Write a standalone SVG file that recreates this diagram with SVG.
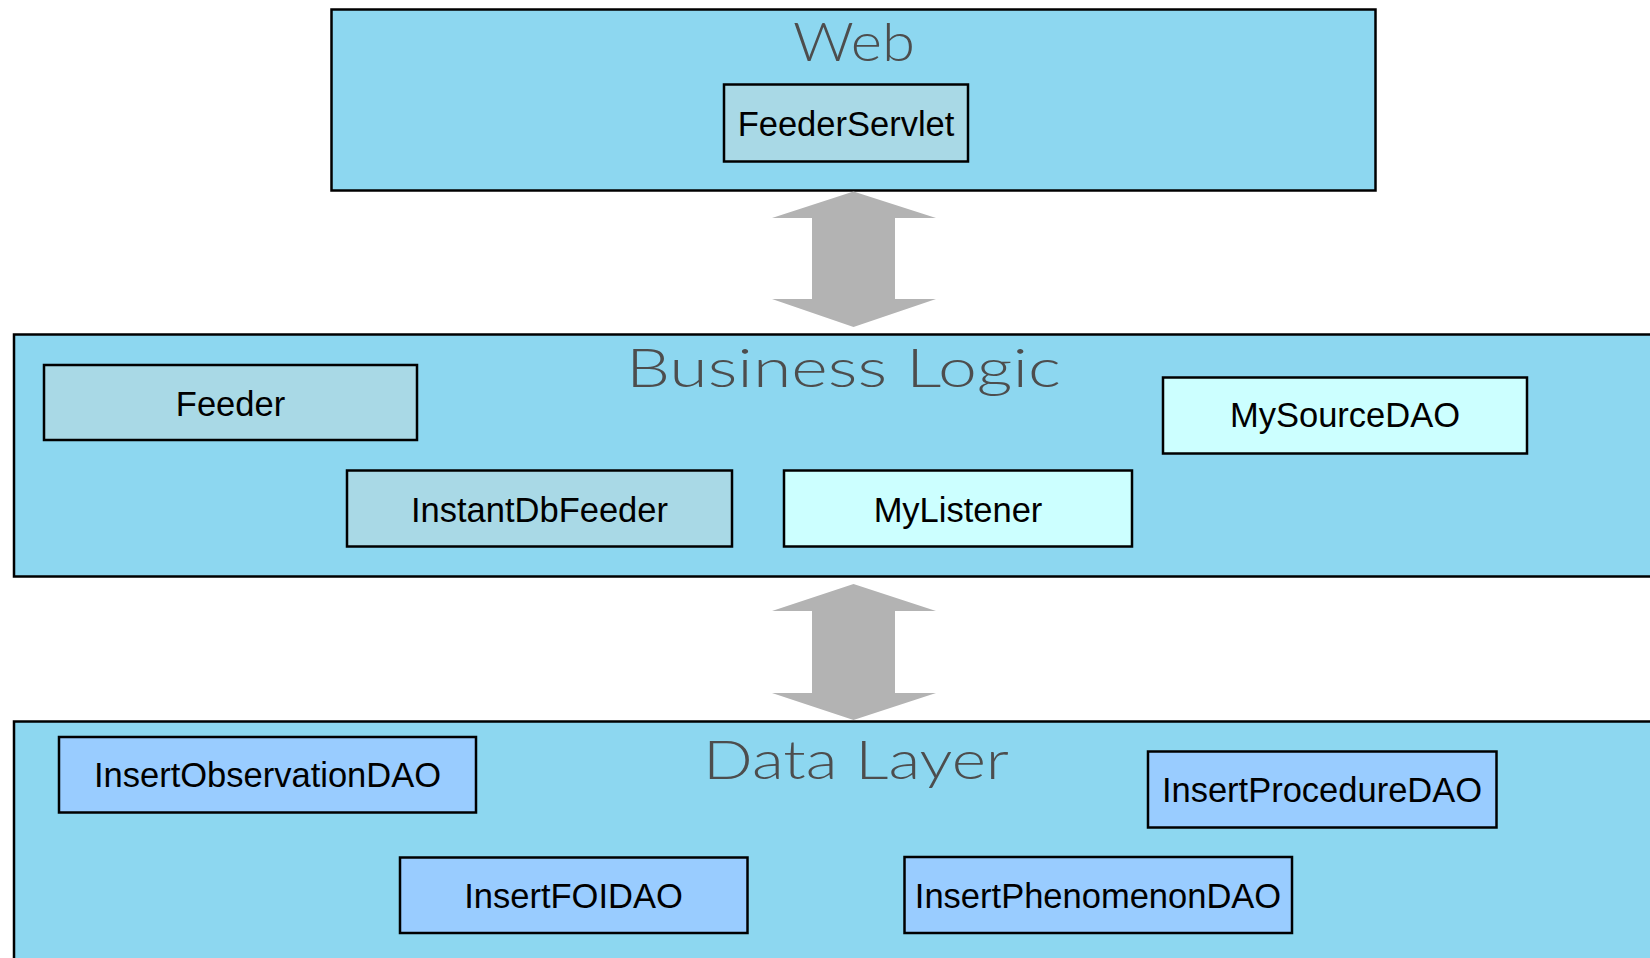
<svg xmlns="http://www.w3.org/2000/svg" width="1650" height="958" viewBox="0 0 1650 958">
<style>
.layer{fill:#8dd7f0;stroke:#000;stroke-width:2.5}
.title{font-family:Lato,"DejaVu Sans","Liberation Sans",sans-serif;font-weight:300;font-size:53px;fill:#4d4d4d;text-anchor:middle}
.box{stroke:#000;stroke-width:2.5}
.cls{fill:#a9d9e6}
.lis{fill:#ccffff}
.dao{fill:#99ccff}
.lbl{font-family:"Liberation Sans",Arial,sans-serif;font-size:34.5px;fill:#000;text-anchor:middle}
.arrow{fill:#b3b3b3}
</style>
<rect width="1650" height="958" fill="#fff"/>
<g id="layer-web">
<rect class="layer" x="331.5" y="9.5" width="1044" height="181"/>
<text class="title" x="854" y="61" textLength="122" lengthAdjust="spacingAndGlyphs">Web</text>
</g>
<g id="layer-business">
<rect class="layer" x="14" y="334.5" width="1660" height="242"/>
<text class="title" x="843.5" y="386.5" textLength="435" lengthAdjust="spacingAndGlyphs">Business Logic</text>
</g>
<g id="layer-data">
<rect class="layer" x="14" y="721.5" width="1660" height="260"/>
<text class="title" x="856" y="779" textLength="306" lengthAdjust="spacingAndGlyphs">Data Layer</text>
</g>
<g id="connectors">
<polygon class="arrow" points="853.5,191.5 936,218 895,218 895,299 936,299 853.5,327 772,299 812,299 812,218 772,218"/>
<polygon class="arrow" points="853.5,584 936,611 895,611 895,693 936,693 853.5,720 772,693 812,693 812,611 772,611"/>
</g>
<g id="FeederServlet">
<rect class="box cls" x="724" y="84.5" width="244" height="77"/>
<text class="lbl" x="846" y="135.5">FeederServlet</text>
</g>
<g id="Feeder">
<rect class="box cls" x="44" y="365" width="373" height="75"/>
<text class="lbl" x="230.5" y="415.5">Feeder</text>
</g>
<g id="InstantDbFeeder">
<rect class="box cls" x="347" y="470.5" width="385" height="76"/>
<text class="lbl" x="539.5" y="521.5">InstantDbFeeder</text>
</g>
<g id="MyListener">
<rect class="box lis" x="784" y="470.5" width="348" height="76"/>
<text class="lbl" x="958" y="521.5">MyListener</text>
</g>
<g id="MySourceDAO">
<rect class="box lis" x="1163" y="377.5" width="364" height="76"/>
<text class="lbl" x="1345" y="427">MySourceDAO</text>
</g>
<g id="InsertObservationDAO">
<rect class="box dao" x="59" y="737" width="417" height="75.5"/>
<text class="lbl" x="267.5" y="787">InsertObservationDAO</text>
</g>
<g id="InsertProcedureDAO">
<rect class="box dao" x="1148" y="751.5" width="348.5" height="76"/>
<text class="lbl" x="1322" y="802">InsertProcedureDAO</text>
</g>
<g id="InsertFOIDAO">
<rect class="box dao" x="400" y="857.5" width="347.5" height="75.5"/>
<text class="lbl" x="573.5" y="907.5">InsertFOIDAO</text>
</g>
<g id="InsertPhenomenonDAO">
<rect class="box dao" x="904.5" y="857" width="387.5" height="76"/>
<text class="lbl" x="1098" y="907.5">InsertPhenomenonDAO</text>
</g>
</svg>
